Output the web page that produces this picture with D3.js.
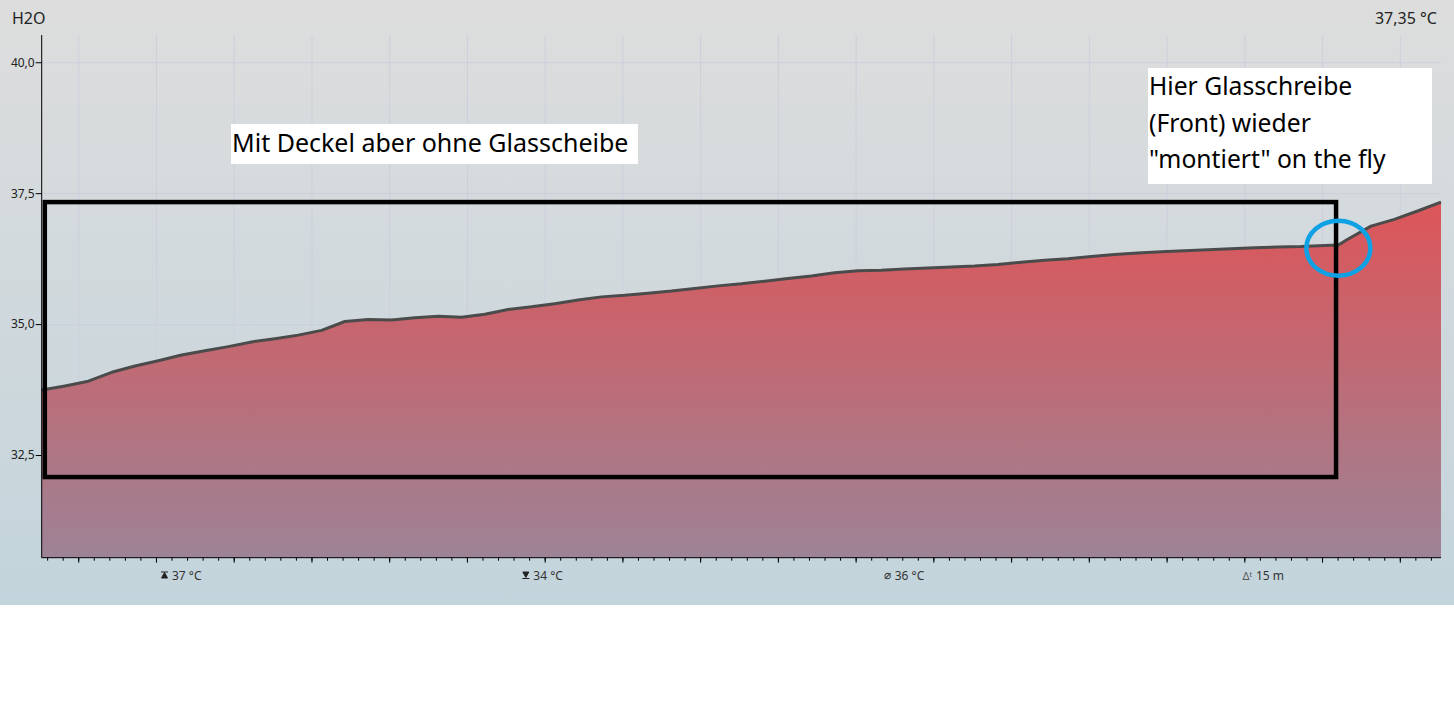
<html>
<head>
<meta charset="utf-8">
<script src="https://d3js.org/d3.v7.min.js"></script>
<style>
  body { margin: 0; background: #fff; }
  svg text { font-family: "Noto Sans", "Open Sans", sans-serif; }
  .gridlines .domain { display: none; }
  .gridlines line { stroke: #cdcfdc; stroke-width: 1; }
</style>
</head>
<body>
<svg id="chart" width="1454" height="717"></svg>
<script>
// --- data (time in seconds since start, temperature in °C)
const times = [0, 15, 30, 45, 60, 75, 90, 105, 120, 135, 150, 165, 180, 195, 210, 225, 240, 255,
  270, 285, 300, 315, 330, 345, 360, 375, 390, 405, 420, 435, 450, 465, 480, 495, 510, 525,
  540, 555, 570, 585, 600, 615, 630, 645, 660, 675, 690, 705, 720, 735, 750, 765, 780, 795,
  810, 825, 834, 840, 855, 870, 885, 900];
const temps = [33.74, 33.82, 33.91, 34.08, 34.20, 34.30, 34.41, 34.49, 34.57, 34.66, 34.72, 34.79,
  34.88, 35.05, 35.09, 35.08, 35.12, 35.15, 35.13, 35.19, 35.28, 35.33, 35.39, 35.46, 35.52,
  35.55, 35.59, 35.63, 35.68, 35.73, 35.77, 35.82, 35.87, 35.92, 35.98, 36.02, 36.03, 36.05,
  36.07, 36.09, 36.11, 36.14, 36.18, 36.22, 36.25, 36.29, 36.33, 36.36, 36.38, 36.40, 36.42,
  36.44, 36.46, 36.47, 36.48, 36.50, 36.51, 36.62, 36.87, 37.00, 37.16, 37.33];
const yTicks = [32.5, 35, 37.5, 40];
const seriesName = "H2O";
const currentValue = "37,35 °C";
const statKeys = ["max", "min", "avg", "dt"];
const statLabels = ["37 °C", "34 °C", "36 °C", "15 m"];

const data = times.map((t, i) => ({ t: t, v: temps[i] }));

const svg = d3.select("#chart");
const width = +svg.attr("width");
const margin = { top: 35, right: 13, bottom: 159.3, left: 41.7 };
const panelHeight = 605;
const chartWidth = width - margin.left - margin.right;
const chartHeight = 717 - margin.top - margin.bottom;

const de = d3.formatLocale({ decimal: ",", thousands: ".", grouping: [3], currency: ["", " €"] });
const fmt = de.format(".1f");

// background gradients
const defs = svg.append("defs");
const bg = defs.append("linearGradient").attr("id", "bg").attr("x1", 0).attr("x2", 0).attr("y1", 0).attr("y2", 1);
bg.append("stop").attr("offset", "0%").attr("stop-color", "#dddddd");
bg.append("stop").attr("offset", "100%").attr("stop-color", "#c3d4dc");

const fillGrad = defs.append("linearGradient").attr("id", "fillGrad")
    .attr("gradientUnits", "userSpaceOnUse")
    .attr("x1", 0).attr("x2", 0).attr("y1", 200 - margin.top).attr("y2", chartHeight);
fillGrad.append("stop").attr("offset", "0%").attr("stop-color", "#dd5558");
fillGrad.append("stop").attr("offset", "100%").attr("stop-color", "#9d8396");

svg.append("rect").attr("width", width).attr("height", panelHeight).attr("fill", "url(#bg)");

const graph = svg.append("g").attr("transform", "translate(" + margin.left + "," + margin.top + ")");

const xScale = d3.scaleLinear().domain([0, 900]).range([0, chartWidth]);
const yScale = d3.scaleLinear().domain([30.54, 40.52]).range([chartHeight, 0]);

const majorTicks = d3.range(23.5, 900, 50);
const minorTicks = d3.range(3.5, 900, 10);

// gridlines
graph.append("g").attr("class", "gridlines")
    .call(d3.axisLeft(yScale).tickValues(yTicks).tickSize(-chartWidth).tickFormat(""));
graph.append("g").attr("class", "gridlines")
    .attr("transform", `translate(0,${chartHeight})`)
    .call(d3.axisBottom(xScale).tickValues(majorTicks).tickSize(chartHeight).tickFormat(""))
    .selectAll("line").attr("y2", -chartHeight);

// area + line
const area = d3.area().x(d => xScale(d.t)).y0(chartHeight).y1(d => yScale(d.v));
const line = d3.line().x(d => xScale(d.t)).y(d => yScale(d.v));

graph.append("path").datum(data).attr("d", area).attr("fill", "url(#fillGrad)");
graph.append("path").datum(data).attr("d", line)
    .attr("fill", "none").attr("stroke", "#4b4b4b").attr("stroke-width", 3)
    .attr("stroke-linejoin", "round");

// axes
const yAxis = graph.append("g")
    .call(d3.axisLeft(yScale).tickValues(yTicks).tickSize(6).tickPadding(1).tickFormat(fmt));
yAxis.select(".domain").attr("d", `M0,0V${chartHeight}`).attr("stroke", "#000");
yAxis.selectAll("text").attr("font-size", 12).attr("fill", "#222");

const xMinor = graph.append("g").attr("transform", `translate(0,${chartHeight})`)
    .call(d3.axisBottom(xScale).tickValues(minorTicks).tickSize(3).tickFormat(""));
xMinor.select(".domain").attr("d", `M0,0H${chartWidth}`).attr("stroke", "#000");
graph.append("g").attr("transform", `translate(0,${chartHeight})`)
    .call(d3.axisBottom(xScale).tickValues(majorTicks).tickSize(5).tickFormat(""))
    .select(".domain").remove();

// header
svg.append("text").attr("x", 12).attr("y", 24).attr("font-size", 16).attr("fill", "#222").text(seriesName);
svg.append("text").attr("x", 1437).attr("y", 24).attr("text-anchor", "end")
    .attr("font-size", 16).attr("fill", "#222").text(currentValue);

// statistics under the axis
const statX = d3.scalePoint().domain(statKeys).range([178, 1262]);
const stats = svg.append("g").selectAll("g").data(statKeys).join("g")
    .attr("transform", d => `translate(${statX(d)},580)`);
stats.append("text").attr("x", -6).attr("font-size", 12).attr("fill", "#333")
    .text((d, i) => statLabels[i]);
stats.each(function (d) {
  const g = d3.select(this);
  if (d === "max") {
    g.append("path").attr("d", "M-17,-8H-10M-13.5,-7.5L-10.5,-2H-16.5Z").attr("stroke", "#222").attr("fill", "#222").attr("stroke-width", 1);
  } else if (d === "min") {
    g.append("path").attr("d", "M-17,-1.5H-10M-16.5,-8H-10.5L-13.5,-2.5Z").attr("stroke", "#222").attr("fill", "#222").attr("stroke-width", 1);
  } else if (d === "avg") {
    g.append("text").attr("x", -10).attr("y", -1).attr("font-size", 12).attr("text-anchor", "end").attr("fill", "#333").text("⌀");
  } else {
    const t = g.append("text").attr("x", -10).attr("font-size", 11).attr("text-anchor", "end").attr("fill", "#555");
    t.append("tspan").text("Δ");
    t.append("tspan").attr("font-size", 7).attr("dy", -3).text("t");
  }
});

// annotations
graph.append("rect")
    .attr("x", xScale(2)).attr("y", yScale(37.33))
    .attr("width", xScale(832.5) - xScale(2)).attr("height", yScale(32.08) - yScale(37.33))
    .attr("fill", "none").attr("stroke", "#000").attr("stroke-width", 4.5);

graph.append("ellipse")
    .attr("cx", xScale(834)).attr("cy", yScale(36.45))
    .attr("rx", 32).attr("ry", 27.5)
    .attr("fill", "none").attr("stroke", "#0ea2e4").attr("stroke-width", 4.5);

const note1 = svg.append("g");
note1.append("rect").attr("x", 231).attr("y", 124).attr("width", 407).attr("height", 40).attr("fill", "#fff");
note1.append("text").attr("x", 232).attr("y", 152).attr("font-size", 25).attr("fill", "#000")
    .text("Mit Deckel aber ohne Glasscheibe");

const note2Lines = ["Hier Glasschreibe", "(Front) wieder", "\"montiert\" on the fly"];
const note2 = svg.append("g");
note2.append("rect").attr("x", 1148).attr("y", 68).attr("width", 284).attr("height", 116).attr("fill", "#fff");
note2.selectAll("text").data(note2Lines).join("text")
    .attr("x", 1149).attr("y", (d, i) => 95 + i * 36.5)
    .attr("font-size", 24.7).attr("fill", "#000").text(d => d);
</script>
</body>
</html>
